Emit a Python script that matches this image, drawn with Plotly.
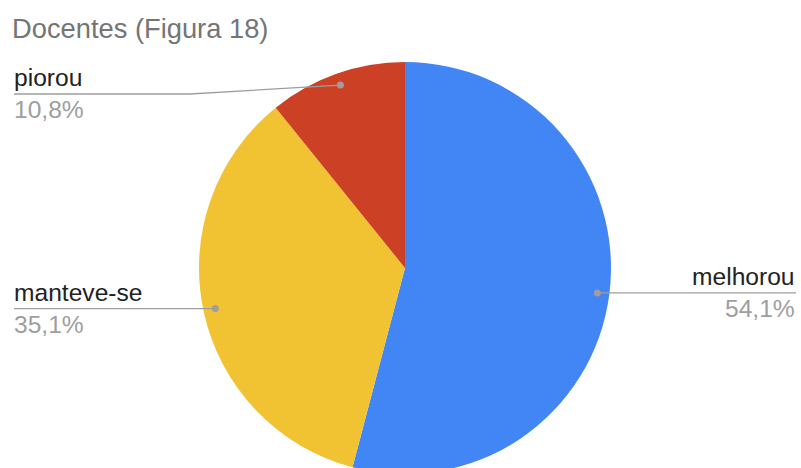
import math
import plotly.graph_objects as go

# ---- data ----
title_text = "Docentes (Figura 18)"
labels = ["melhorou", "manteve-se", "piorou"]
values = [54.1, 35.1, 10.8]
pct_labels = ["54,1%", "35,1%", "10,8%"]
colors = ["#4285F4", "#F1C232", "#CC4125"]

# ---- geometry (pixels) ----
W, H = 801, 476
CX, CY, R = 405, 268, 206
DOT_R = 194          # radius at which the leader dot sits
LEFT_X, RIGHT_X = 14, 796
MIN_LINE_Y = 94
FONT = "Arial, 'Liberation Sans', sans-serif"
FS = 24.6
TFS = 27.3


def px(x):
    return x / W


def py(y):
    return 1 - y / H


fig = go.Figure(
    go.Pie(
        labels=labels,
        values=values,
        sort=False,
        direction="clockwise",
        rotation=0,
        marker=dict(colors=colors, line=dict(width=0)),
        textinfo="none",
        hoverinfo="label+percent",
        showlegend=False,
        domain=dict(x=[px(CX - R), px(CX + R)], y=[py(CY + R), py(CY - R)]),
    )
)

shapes = []
annotations = []
total = sum(values)
cum = 0
for lab, val, pct in zip(labels, values, pct_labels):
    frac = (cum + val / 2) / total
    cum += val
    th = 2 * math.pi * frac
    dx = CX + DOT_R * math.sin(th)
    dy = CY - DOT_R * math.cos(th)
    left = math.sin(th) < 0
    ly = max(dy, MIN_LINE_Y)
    ex = CX - R - 9 if left else CX + R + 9
    endx = LEFT_X if left else RIGHT_X
    path = f"M {px(dx)} {py(dy)} L {px(ex)} {py(ly)} L {px(endx)} {py(ly)}"
    shapes.append(dict(type="path", xref="paper", yref="paper", path=path,
                       line=dict(color="#9E9E9E", width=1.3)))
    shapes.append(dict(type="circle", xref="paper", yref="paper",
                       x0=px(dx - 3.5), x1=px(dx + 3.5), y0=py(dy + 3.5), y1=py(dy - 3.5),
                       fillcolor="#9E9E9E", line=dict(width=0)))
    anchor = "left" if left else "right"
    ax = endx - 2.5 if left else endx + 1
    annotations.append(dict(text=lab, x=px(ax), y=py(ly - 8 - 0.3465 * FS), xref="paper", yref="paper",
                            xanchor=anchor, yanchor="middle", showarrow=False,
                            font=dict(family=FONT, size=FS, color="#222222")))
    annotations.append(dict(text=pct, x=px(ax), y=py(ly + 24 - 0.3465 * FS), xref="paper", yref="paper",
                            xanchor=anchor, yanchor="middle", showarrow=False,
                            font=dict(family=FONT, size=FS, color="#9E9E9E")))

annotations.append(dict(text=title_text, x=px(10), y=py(38 - 0.3465 * TFS), xref="paper", yref="paper",
                        xanchor="left", yanchor="middle", showarrow=False,
                        font=dict(family=FONT, size=TFS, color="#757575")))

fig.update_layout(
    width=W, height=H,
    margin=dict(l=0, r=0, t=0, b=0),
    paper_bgcolor="white", plot_bgcolor="white",
    shapes=shapes, annotations=annotations,
)

fig.write_html(
    "out.html",
    config={"displayModeBar": False},
    post_script="document.body.style.margin='0';document.body.style.overflow='hidden';"
                "document.documentElement.style.overflow='hidden';",
)
